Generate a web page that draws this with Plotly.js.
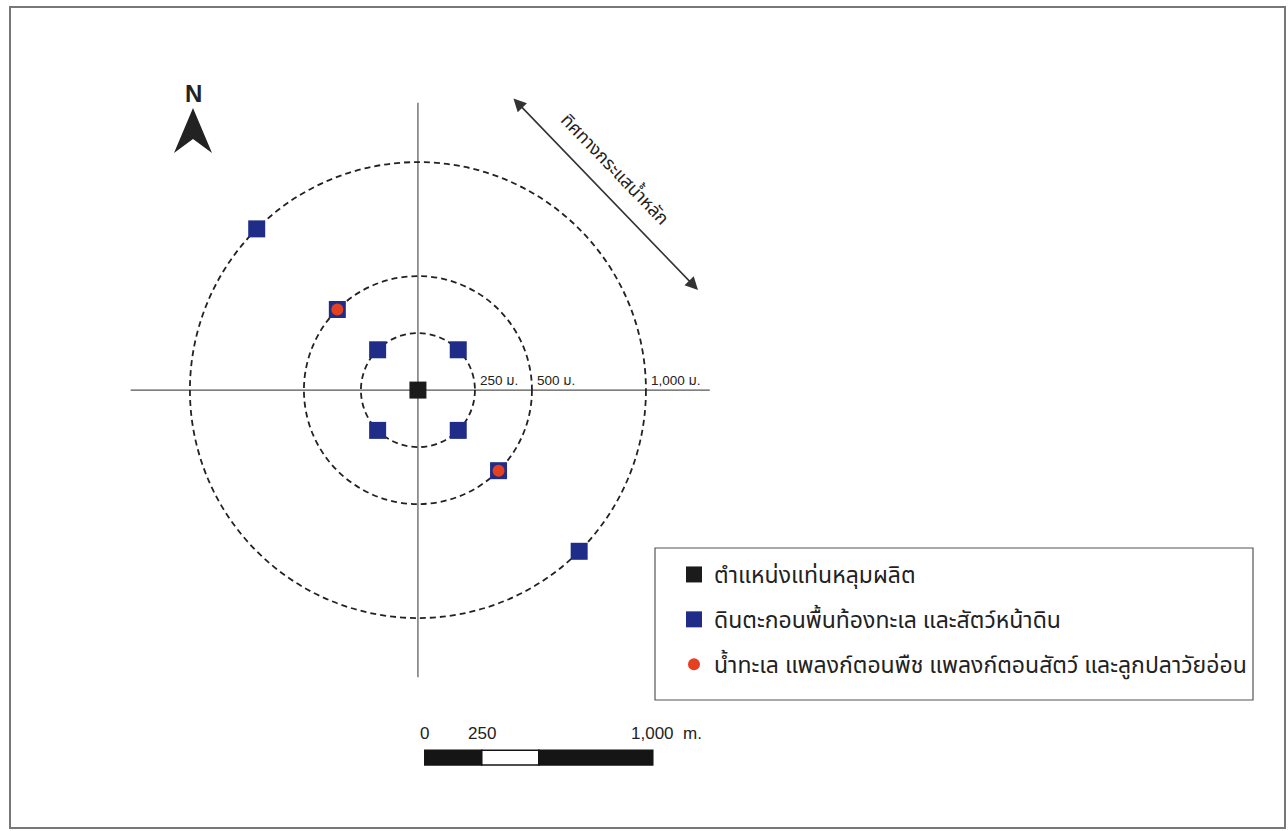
<!DOCTYPE html>
<html>
<head>
<meta charset="utf-8">
<script src="https://cdn.plot.ly/plotly-3.0.1.min.js"></script>
<style>html,body{margin:0;padding:0;background:#fff;}#chart{width:1288px;height:831px;}</style>
</head>
<body>
<div id="chart"></div>
<script>
// ---- data ----
const ringRadii = [250, 500, 1000];              // metres
const ringLabels = ["250 ม.", "500 ม.", "1,000 ม."];
const platformName = "ตำแหน่งแท่นหลุมผลิต";
const sedimentName = "ดินตะกอนพื้นท้องทะเล และสัตว์หน้าดิน";
const waterName = "น้ำทะเล แพลงก์ตอนพืช แพลงก์ตอนสัตว์ และลูกปลาวัยอ่อน";
// sediment / benthos stations: distance (m) and angle (deg, counter-clockwise from east)
const sedimentDist  = [250, 250, 250, 250, 500, 500, 1000, 1000];
const sedimentAngle = [45, 135, 225, 315, 135, 315, 135, 315];
// seawater / plankton stations
const waterDist  = [500, 500];
const waterAngle = [135, 315];
const currentLabel = "ทิศทางกระแสน้ำหลัก";
const scaleTicks = [0, 250, 1000];
const scaleTickLabels = ["0", "250", "1,000  m."];
const scaleSegments = [0, 250, 500, 1000];

// ---- helpers ----
const rad = d => d * Math.PI / 180;
const toX = (r, a) => r.map((v, i) => v * Math.cos(rad(a[i])));
const toY = (r, a) => r.map((v, i) => v * Math.sin(rad(a[i])));
const W = 1288, H = 831;
const px = x => x / W, py = y => 1 - y / H;   // page pixels -> paper

const thai = "Tahoma, 'Noto Sans Thai', 'Noto Sans Thai Looped', Loma, Garuda, sans-serif";
const arial = "Arial, 'Liberation Sans', 'Noto Sans Thai', Loma, sans-serif";

const traces = [
  {type: "scatter", mode: "markers", x: toX(sedimentDist, sedimentAngle), y: toY(sedimentDist, sedimentAngle),
   name: sedimentName, legendrank: 2, legendgroup: "b",
   marker: {symbol: "square", size: 17, color: "#1f2d88", line: {width: 0}}},
  {type: "scatter", mode: "markers", x: toX(waterDist, waterAngle), y: toY(waterDist, waterAngle),
   name: waterName, legendrank: 3, legendgroup: "c",
   marker: {symbol: "circle", size: 12, color: "#e5401f", line: {width: 0}}},
  {type: "scatter", mode: "markers", x: [0], y: [0],
   name: platformName, legendrank: 1, legendgroup: "a",
   marker: {symbol: "square", size: 17, color: "#1b1b1b", line: {width: 0}}}
];

const shapes = [];
const annotations = [];
// page frame
shapes.push({type: "rect", xref: "paper", yref: "paper", x0: px(10), x1: px(1285), y0: py(828), y1: py(7),
  line: {color: "#777", width: 2}});
// cross axes
const axisExtent = 1260;
shapes.push({type: "line", x0: -axisExtent, x1: axisExtent + 20, y0: 0, y1: 0, line: {color: "#555", width: 1.2}, layer: "below"});
shapes.push({type: "line", x0: 0, x1: 0, y0: -axisExtent, y1: axisExtent, line: {color: "#555", width: 1.2}, layer: "below"});
// distance rings
ringRadii.forEach((r, i) => {
  shapes.push({type: "circle", x0: -r, x1: r, y0: -r, y1: r, layer: "below",
    line: {color: "#222", width: 1.8, dash: "6px,4px"}});
  annotations.push({x: r, y: 0, xanchor: "left", yanchor: "bottom", xshift: 3, yshift: 0,
    text: ringLabels[i], showarrow: false, font: {family: arial, size: 13.5, color: "#222"}});
});
// legend box
shapes.push({type: "rect", xref: "paper", yref: "paper", x0: px(655), x1: px(1253), y0: py(700), y1: py(548),
  line: {color: "#555", width: 1.2}});
// north arrow
shapes.push({type: "path", xref: "paper", yref: "paper", fillcolor: "#222", line: {width: 0},
  path: `M ${px(193)} ${py(108)} L ${px(212)} ${py(153)} L ${px(193)} ${py(139)} L ${px(174)} ${py(153)} Z`});
annotations.push({xref: "paper", yref: "paper", x: px(193), y: py(93), xanchor: "center", yanchor: "middle",
  text: "<b>N</b>", showarrow: false, font: {family: arial, size: 24, color: "#222"}});
// current direction arrow
annotations.push({xref: "paper", yref: "paper", x: px(698), y: py(290), ax: -186, ay: -193, axref: "pixel", ayref: "pixel",
  text: "", showarrow: true, arrowside: "end+start", arrowhead: 2, arrowsize: 1.6, arrowwidth: 1.6, arrowcolor: "#333"});
annotations.push({xref: "paper", yref: "paper", x: px(614), y: py(170), xanchor: "center", yanchor: "middle",
  text: currentLabel, textangle: 46, showarrow: false,
  font: {family: thai, size: 18, color: "#222"}});
// scale bar (metres, same scale as the map)
const sbX = 30, sbY0 = -1645, sbY1 = -1580;
for (let i = 0; i < scaleSegments.length - 1; i++) {
  shapes.push({type: "rect", x0: sbX + scaleSegments[i], x1: sbX + scaleSegments[i + 1], y0: sbY0, y1: sbY1,
    fillcolor: i % 2 === 0 ? "#151515" : "#ffffff", line: {color: "#151515", width: 1.5}});
}
scaleTicks.forEach((t, i) => {
  const last = i === scaleTicks.length - 1;
  annotations.push({x: sbX + t, y: -1505, xanchor: last ? "left" : "center", yanchor: "middle", xshift: last ? -24 : 0,
    text: scaleTickLabels[i], showarrow: false, font: {family: arial, size: 17, color: "#222"}});
});

const layout = {
  width: W, height: H,
  margin: {l: 0, r: 0, t: 0, b: 0},
  paper_bgcolor: "#fff", plot_bgcolor: "#fff",
  xaxis: {range: [-1833, 3816], visible: false, fixedrange: true},
  yaxis: {range: [-1934, 1711], visible: false, fixedrange: true},
  showlegend: true,
  legend: {x: px(674), y: py(553), xanchor: "left", yanchor: "top", bgcolor: "rgba(0,0,0,0)",
    borderwidth: 0, tracegroupgap: 12, itemsizing: "trace",
    font: {family: thai, size: 23, color: "#222"}},
  shapes: shapes,
  annotations: annotations
};
Plotly.newPlot("chart", traces, layout, {staticPlot: true});
</script>
</body>
</html>
